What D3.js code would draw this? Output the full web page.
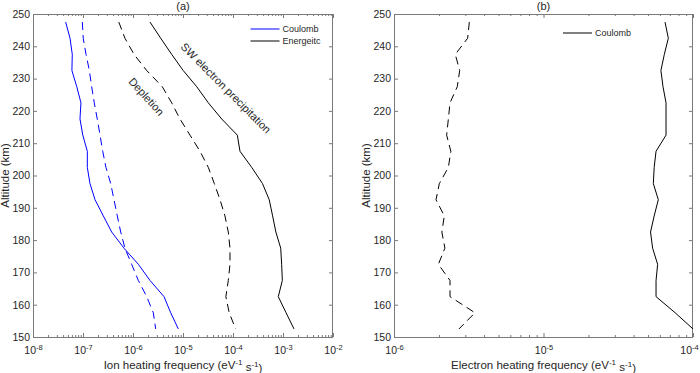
<!DOCTYPE html>
<html><head><meta charset="utf-8">
<script src="https://cdn.jsdelivr.net/npm/d3@7"></script>
<style>
body{margin:0;background:#fff}
svg{display:block;font-family:"Liberation Sans",Arial,Helvetica,sans-serif}
</style>
</head><body>
<svg id="chart" width="700" height="373"></svg>
<script>
// ---- data ----
const altitudes = [247.5, 242.5, 237.5, 232.5, 227.5, 222.5, 217.5, 212.5, 207.5, 202.5,
                   197.5, 192.5, 187.5, 182.5, 177.5, 172.5, 167.5, 162.5, 157.5, 152.5];

// panel (a): ion heating frequency
const ionCoulomb = [4.5e-8, 5.5e-8, 6.1e-8, 6.0e-8, 7.5e-8, 9.1e-8, 8.7e-8, 9.9e-8, 1.22e-7, 1.22e-7,
                    1.38e-7, 1.74e-7, 2.55e-7, 3.75e-7, 6.6e-7, 1.28e-6, 2.19e-6, 4.17e-6, 5.68e-6, 8.05e-6];
const ionCoulombDepletion = [9.7e-8, 1.01e-7, 1.15e-7, 1.34e-7, 1.49e-7, 1.68e-7, 1.93e-7, 2.19e-7, 2.48e-7, 2.88e-7,
                    3.58e-7, 4.17e-7, 4.85e-7, 5.68e-7, 6.9e-7, 9.4e-7, 1.28e-6, 1.88e-6, 2.55e-6, 2.84e-6];
const ionEnergetic = [2.19e-6, 3.58e-6, 5.94e-6, 1.01e-5, 1.88e-5, 3.21e-5, 5.94e-5, 1.22e-4, 1.38e-4, 2.37e-4,
                    3.89e-4, 5.3e-4, 6.2e-4, 7.2e-4, 9.0e-4, 9.4e-4, 9.7e-4, 8.05e-4, 1.15e-3, 1.66e-3];
const ionEnergeticDepletion = [5.2e-7, 6.9e-7, 1.05e-6, 1.88e-6, 3.85e-6, 5.94e-6, 8.7e-6, 1.38e-5, 2.19e-5, 3.21e-5,
                    4.23e-5, 5.5e-5, 6.9e-5, 8.05e-5, 8.7e-5, 8.7e-5, 8.05e-5, 7.2e-5, 8.4e-5, 1.13e-4];

// panel (b): electron heating frequency
const elecCoulomb = [6.5e-5, 6.84e-5, 6.43e-5, 6.1e-5, 6.3e-5, 6.6e-5, 6.6e-5, 6.6e-5, 5.66e-5, 5.5e-5,
                    5.43e-5, 5.86e-5, 5.5e-5, 5.2e-5, 5.37e-5, 5.8e-5, 5.66e-5, 5.66e-5, 7.6e-5, 1.0e-4];
const elecCoulombDepletion = [3.19e-6, 3.11e-6, 2.57e-6, 2.75e-6, 2.65e-6, 2.37e-6, 2.31e-6, 2.25e-6, 2.4e-6, 2.31e-6,
                    2.01e-6, 1.91e-6, 2.17e-6, 2.09e-6, 2.19e-6, 1.98e-6, 2.37e-6, 2.37e-6, 3.48e-6, 2.72e-6];

const altTicks = [150, 160, 170, 180, 190, 200, 210, 220, 230, 240, 250];
const ionTicks = [1e-8, 1e-7, 1e-6, 1e-5, 1e-4, 1e-3, 1e-2];
const elecTicks = [1e-6, 1e-5, 1e-4];
const panelTitles = ["(a)", "(b)"];
const ionXLabel = "Ion heating frequency";
const elecXLabel = "Electron heating frequency";
const yLabel = "Altitude (km)";
const legendA = ["Coulomb", "Energeitc"];
const legendB = ["Coulomb"];
const annotA = ["SW electron precipitation", "Depletion"];

// ---- drawing ----
const svg = d3.select("#chart");
const plotTop = 14, plotBottom = 337;
const axisColor = "#7a7a7a", textColor = "#262626";
const y = d3.scaleLinear().domain([150, 250]).range([plotBottom, plotTop]);

function minorTicks(domain) {
  const out = [];
  const k0 = Math.round(Math.log10(domain[0])), k1 = Math.round(Math.log10(domain[1]));
  for (let k = k0; k < k1; k++) for (let m = 2; m <= 9; m++) out.push(m * Math.pow(10, k));
  return out;
}

function greyTicks(s) { s.select(".domain").remove(); s.selectAll("line").attr("stroke", axisColor); }

function drawPanel(opts) {
  const x = d3.scaleLog().domain(opts.domain).range([opts.left, opts.right]);
  const g = svg.append("g");

  const minors = minorTicks(opts.domain);
  g.append("g").attr("transform", `translate(0,${plotBottom})`)
    .call(d3.axisBottom(x).tickValues(minors).tickSize(-2).tickFormat("")).call(greyTicks);
  g.append("g").attr("transform", `translate(0,${plotTop})`)
    .call(d3.axisTop(x).tickValues(minors).tickSize(-2).tickFormat("")).call(greyTicks);

  const xb = g.append("g").attr("transform", `translate(0,${plotBottom})`)
    .call(d3.axisBottom(x).tickValues(opts.ticks).tickSize(-4).tickSizeOuter(0).tickFormat(""));
  greyTicks(xb);
  const nT = opts.ticks.length;
  xb.selectAll("text").each(function(d, i) {
    const t = d3.select(this).attr("y", 17).attr("dy", null)
      .attr("fill", textColor).attr("font-size", 10.5).attr("text-anchor", "middle");
    if (opts.lastShift && i === nT - 1) t.attr("x", -opts.lastShift);
    t.append("tspan").text("10");
    t.append("tspan").attr("dy", "-0.5em").attr("font-size", 7.5)
      .text(String(Math.round(Math.log10(d))));
  });
  g.append("g").attr("transform", `translate(0,${plotTop})`)
    .call(d3.axisTop(x).tickValues(opts.ticks).tickSize(-4).tickFormat("")).call(greyTicks);

  const yl = g.append("g").attr("transform", `translate(${opts.left},0)`)
    .call(d3.axisLeft(y).tickValues(altTicks).tickSize(-4).tickPadding(3).tickSizeOuter(0));
  greyTicks(yl);
  yl.selectAll("text").attr("fill", textColor).attr("font-size", 10.5);
  yl.attr("font-family", null);
  xb.attr("font-family", null);
  g.append("g").attr("transform", `translate(${opts.right},0)`)
    .call(d3.axisRight(y).tickValues(altTicks).tickSize(-4).tickFormat("")).call(greyTicks);

  g.append("rect").attr("x", opts.left + 0.5).attr("y", plotTop + 0.5)
    .attr("width", opts.right - opts.left - 1).attr("height", plotBottom - plotTop)
    .attr("fill", "none").attr("stroke", axisColor).attr("stroke-width", 1);

  const clipId = "clip" + opts.id;
  svg.append("clipPath").attr("id", clipId).append("rect")
    .attr("x", opts.left).attr("y", plotTop).attr("width", opts.right - opts.left + 1).attr("height", plotBottom - plotTop);
  const line = d3.line().x(d => x(d[0])).y(d => y(d[1]));
  opts.series.forEach(s => {
    g.append("path").datum(s.values.map((v, i) => [v, altitudes[i]]))
      .attr("d", line).attr("fill", "none").attr("stroke", s.color)
      .attr("stroke-width", 1).attr("stroke-dasharray", s.dash || null)
      .attr("clip-path", `url(#${clipId})`);
  });

  const cx = (opts.left + opts.right) / 2;
  g.append("text").attr("x", cx).attr("y", 10).attr("text-anchor", "middle")
    .attr("font-size", 11).attr("fill", textColor).text(opts.title);

  const xl = g.append("text").attr("x", cx).attr("y", 369).attr("text-anchor", "middle")
    .attr("font-size", 11.5).attr("fill", textColor);
  xl.append("tspan").text(opts.xlabel + " (eV");
  xl.append("tspan").attr("dy", "-0.45em").attr("font-size", 8).text("-1");
  xl.append("tspan").attr("dy", "0.45em").text(" s");
  xl.append("tspan").attr("dy", "-0.45em").attr("font-size", 8).text("-1");
  xl.append("tspan").attr("dy", "0.45em").text(")");

  g.append("text").attr("transform", `translate(${opts.ylabelX},${(plotTop + plotBottom) / 2}) rotate(-90)`)
    .attr("text-anchor", "middle").attr("font-size", 11.5).attr("fill", textColor).text(yLabel);

  opts.legend.forEach((item, i) => {
    const ly = opts.legendY + i * 12;
    g.append("line").attr("x1", opts.legendX).attr("x2", opts.legendX + 29)
      .attr("y1", ly).attr("y2", ly).attr("stroke", item.color).attr("stroke-width", 1);
    g.append("text").attr("x", opts.legendX + 32).attr("y", ly).attr("dy", "0.34em")
      .attr("font-size", 9).attr("fill", textColor).text(item.label);
  });
  return { g, x };
}

drawPanel({
  id: "a", left: 33, right: 333, domain: [1e-8, 1e-2], ticks: ionTicks,
  title: panelTitles[0], xlabel: ionXLabel, ylabelX: 9,
  series: [
    { values: ionCoulomb, color: "#0000ff" },
    { values: ionCoulombDepletion, color: "#0000ff", dash: "8,5" },
    { values: ionEnergetic, color: "#000000" },
    { values: ionEnergeticDepletion, color: "#000000", dash: "8,5" }
  ],
  legend: [{ label: legendA[0], color: "#0000ff" }, { label: legendA[1], color: "#000000" }],
  legendX: 250.5, legendY: 29
});

drawPanel({
  id: "b", left: 394, right: 693, domain: [1e-6, 1e-4], ticks: elecTicks,
  title: panelTitles[1], xlabel: elecXLabel, ylabelX: 370, lastShift: 4,
  series: [
    { values: elecCoulomb, color: "#000000" },
    { values: elecCoulombDepletion, color: "#000000", dash: "8,5" }
  ],
  legend: [{ label: legendB[0], color: "#000000" }],
  legendX: 563, legendY: 33
});

svg.append("text").attr("transform", "translate(226,88) rotate(45)")
  .attr("text-anchor", "middle").attr("dominant-baseline", "central")
  .attr("font-size", 11).attr("fill", textColor).text(annotA[0]);
svg.append("text").attr("transform", "translate(146.5,96.5) rotate(48)")
  .attr("text-anchor", "middle").attr("dominant-baseline", "central")
  .attr("font-size", 11).attr("fill", textColor).text(annotA[1]);
</script>
</body></html>
